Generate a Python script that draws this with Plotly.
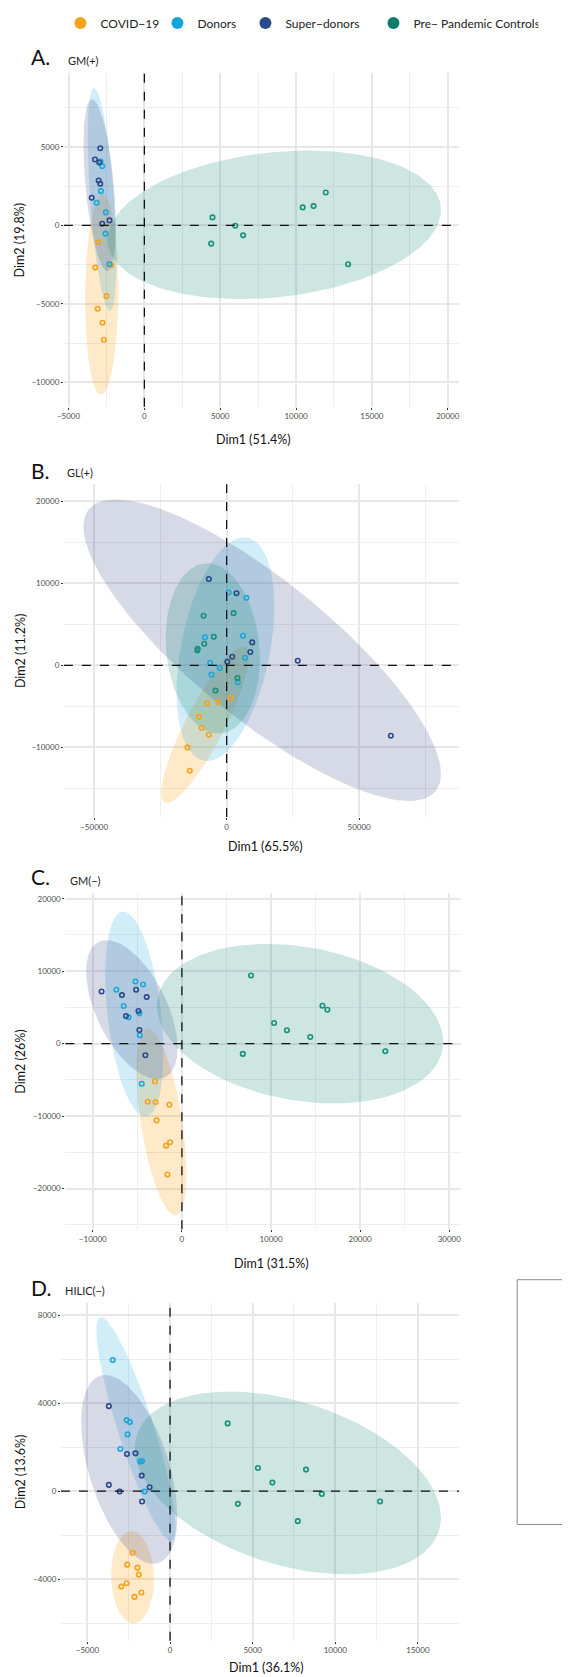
import numpy as np
import plotly.graph_objects as go

# the page body has an 8px default margin, so the figure is placed 8px in
OFF = 8
FW, FH = 570 - OFF, 1677 - OFF

groups = ["COVID−19", "Donors", "Super−donors", "Pre− Pandemic Controls"]
point_colors = ["#F7A21B", "#1AA7DA", "#2A4A8A", "#16907A"]
legend_colors = ["#F7A21B", "#12A6D8", "#2A4A8A", "#0E7E6B"]
fill_colors = ["rgba(249,162,27,0.24)", "rgba(26,167,218,0.20)",
               "rgba(50,65,130,0.20)", "rgba(19,138,116,0.21)"]

panel_letters = ["A.", "B.", "C.", "D."]
panel_titles = ["GM(+)", "GL(+)", "GM(−)", "HILIC(−)"]
x_titles = ["Dim1 (51.4%)", "Dim1 (65.5%)", "Dim1 (31.5%)", "Dim1 (36.1%)"]
y_titles = ["Dim2 (19.8%)", "Dim2 (11.2%)", "Dim2 (26%)", "Dim2 (13.6%)"]

# ---------------- Panel A: GM(+) ----------------
a_covid_x = [-3038, -3234, -2192, -2496, -3082, -2756, -2669]
a_covid_y = [-1080, -2690, -2541, -4511, -5315, -6205, -7285]
a_donor_x = [-2886, -2778, -2865, -3147, -2539, -2561, -2300]
a_donor_y = [4066, 3770, 2181, 1440, 826, -529, -2478]
a_super_x = [-2908, -3255, -2973, -3016, -2908, -3472, -2778, -2300]
a_super_y = [4913, 4193, 4003, 2859, 2647, 1758, 106, 318]
a_ctrl_x = [4492, 4405, 5990, 6510, 10438, 11155, 11957, 13433]
a_ctrl_y = [508, -1165, -21, -635, 1144, 1228, 2097, -2478]
# ellipses: centre x, centre y, half-range x, half-range y, correlation
a_ell = [(-2810, -4415, 1096, 6385, 0.05),
         (-2789, 1652, 944, 7094, -0.55),
         (-2951, 2573, 1063, 5474, -0.47),
         (8561, 32, 10992, 4733, 0.2)]

# ---------------- Panel B: GL(+) ----------------
b_covid_x = [-7329, -3354, 1491, -10435, -9441, -6708, -14783, -13913]
b_covid_y = [-4615, -4453, -3968, -6275, -7611, -8462, -10000, -12834]
b_donor_x = [745, 7453, -8199, 6211, 6957, -6211, -2609, -5714, 4224]
b_donor_y = [8866, 8219, 3401, 3603, 931, 324, -324, -1134, -2065]
b_super_x = [-6708, 3727, 9689, 8944, 2112, 248, 26832, 61988]
b_super_y = [10526, 8785, 2794, 1619, 1053, 445, 567, -8583]
b_ctrl_x = [-8696, 2609, -4845, -8447, -10932, -11056, 4099, -4224]
b_ctrl_y = [6032, 6356, 3482, 2632, 2024, 1822, -1538, -3077]
b_ell = [(-8137, -7247, 16584, 9555, 0.87),
         (-435, 1964, 18447, 13623, 0.38),
         (13416, 1842, 67453, 18360, -0.82),
         (-5217, 2065, 17764, 10364, -0.12)]

# ---------------- Panel C: GM(-) ----------------
c_covid_x = [-3029, -3841, -2955, -1404, -2844, -1330, -1773, -1625]
c_covid_y = [-5229, -8028, -8073, -8440, -10596, -13624, -14083, -18073]
c_donor_x = [-5208, -4358, -7350, -6537, -5983, -4765, -4728, -4506]
c_donor_y = [8578, 8165, 7431, 5183, 3624, 4174, 1147, -5550]
c_super_x = [-9012, -6722, -5134, -3952, -4875, -6279, -4765, -4100]
c_super_y = [7202, 6697, 7431, 6422, 4495, 3807, 1881, -1606]
c_ctrl_x = [7756, 10342, 11782, 14404, 15771, 16325, 6833, 22825]
c_ctrl_y = [9404, 2844, 1835, 917, 5229, 4679, -1422, -1055]
c_ell = [(-2290, -10826, 2807, 12890, -0.55),
         (-5337, 4060, 3269, 14151, -0.38),
         (-5614, 4679, 5134, 9587, -0.55),
         (13259, 2752, 16066, 11009, -0.23)]

# ---------------- Panel D: HILIC(-) ----------------
d_covid_x = [-2271, -2590, -1972, -1892, -2629, -2948, -1733, -2151]
d_covid_y = [-2798, -3342, -3478, -3796, -4189, -4340, -4612, -4809]
d_donor_x = [-3466, -2629, -2430, -2570, -3008, -1813, -1693, -1534]
d_donor_y = [5974, 3236, 3146, 2586, 1921, 1346, 1376, -15]
d_super_x = [-3705, -2610, -2092, -1713, -3705, -3048, -1235, -1693]
d_super_y = [3871, 1694, 1724, 711, 287, -15, 181, -469]
d_ctrl_x = [3486, 5319, 8227, 6195, 9183, 4104, 12709, 7729]
d_ctrl_y = [3085, 1059, 983, 393, -121, -575, -469, -1361]
d_ell = [(-2271, -3917, 1295, 2102, -0.05),
         (-2062, 2828, 2400, 5096, -0.88),
         (-2470, 998, 2908, 4295, -0.5),
         (7131, 378, 9263, 4159, -0.38)]

panels = [
    dict(pts=[(a_covid_x, a_covid_y), (a_donor_x, a_donor_y), (a_super_x, a_super_y), (a_ctrl_x, a_ctrl_y)],
         ell=a_ell, xr=[-5306, 20768], yr=[-11563, 9702], xdt=5000, ydt=5000,
         px=[57.5, 458], py=[68.3, 403], xt_off=33),
    dict(pts=[(b_covid_x, b_covid_y), (b_donor_x, b_donor_y), (b_super_x, b_super_y), (b_ctrl_x, b_ctrl_y)],
         ell=b_ell, xr=[-61420, 87850], yr=[-18486, 22057], xdt=50000, ydt=10000,
         px=[57.5, 458], py=[480.7, 814.5], xt_off=30),
    dict(pts=[(c_covid_x, c_covid_y), (c_donor_x, c_donor_y), (c_super_x, c_super_y), (c_ctrl_x, c_ctrl_y)],
         ell=c_ell, xr=[-13075, 31357], yr=[-25637, 20779], xdt=10000, ydt=10000,
         px=[59, 460], py=[890.7, 1228], xt_off=34),
    dict(pts=[(d_covid_x, d_covid_y), (d_donor_x, d_donor_y), (d_super_x, d_super_y), (d_ctrl_x, d_ctrl_y)],
         ell=d_ell, xr=[-6604, 17492], yr=[-6807, 8573], xdt=5000, ydt=4000,
         px=[54.5, 457.7], py=[1301.7, 1640.7], xt_off=27),
]
letter_y = [51.7, 466.7, 874, 1286.7]
subtitle_y = [56, 469, 878, 1289]
subtitle_x = [59.3, 59, 61.7, 56.7]
x_title_cx = [250, 261.7, 268, 263]
legend_px = [74, 171, 259, 387]   # legend symbol centres (page px)


def PX(x):
    return (x - OFF) / FW


def PY(y):
    return 1 - (y - OFF) / FH


def ellipse(cx, cy, sx, sy, rho, n=160):
    t = np.linspace(0, 2 * np.pi, n)
    x = cx + sx * np.cos(t)
    y = cy + sy * (rho * np.cos(t) + np.sqrt(1 - rho ** 2) * np.sin(t))
    return x, y


FONT = "Lato, 'Open Sans', sans-serif"
fig = go.Figure()
layout = dict(width=FW, height=FH, margin=dict(l=0, r=0, t=0, b=0),
              paper_bgcolor="white", plot_bgcolor="white",
              font=dict(family=FONT, color="#222"))
shapes, annotations = [], []


def ann(text, xpx, ypx, size, color="#111", xanchor="center", angle=0):
    annotations.append(dict(text=text, xref="paper", yref="paper", x=PX(xpx), y=PY(ypx),
                            xanchor=xanchor, yanchor="middle", textangle=angle,
                            showarrow=False, font=dict(size=size, color=color)))


for i, p in enumerate(panels):
    k = "" if i == 0 else str(i + 1)
    xa, ya = "x" + k, "y" + k
    for g in range(4):
        ex, ey = ellipse(*p["ell"][g])
        fig.add_trace(go.Scatter(x=ex, y=ey, xaxis=xa, yaxis=ya, mode="lines",
                                 fill="toself", fillcolor=fill_colors[g],
                                 line=dict(width=0), hoverinfo="skip", showlegend=False))
    for g in range(4):
        xs, ys = p["pts"][g]
        fig.add_trace(go.Scatter(x=xs, y=ys, xaxis=xa, yaxis=ya, mode="markers",
                                 marker=dict(symbol="circle-open", size=4.5,
                                             color=point_colors[g],
                                             line=dict(width=1.6, color=point_colors[g])),
                                 showlegend=False, name=groups[g]))
    dom_x = [PX(p["px"][0]), PX(p["px"][1])]
    dom_y = [PY(p["py"][1]), PY(p["py"][0])]
    axcommon = dict(showline=False, zeroline=False, ticks="outside", ticklen=2,
                    tickcolor="#333", tickwidth=1,
                    tickfont=dict(size=8, color="#4D4D4D", family=FONT),
                    tickformat="d", showgrid=True, gridcolor="#E8E6E9", gridwidth=2)
    layout["xaxis" + k] = dict(axcommon, domain=dom_x, range=p["xr"], anchor=ya,
                               dtick=p["xdt"], tick0=0,
                               minor=dict(dtick=p["xdt"] / 2, tick0=0, showgrid=True,
                                          gridcolor="#EEEDEF", gridwidth=1.3))
    layout["yaxis" + k] = dict(axcommon, domain=dom_y, range=p["yr"], anchor=xa,
                               dtick=p["ydt"], tick0=0,
                               minor=dict(dtick=p["ydt"] / 2, tick0=0, showgrid=True,
                                          gridcolor="#EEEDEF", gridwidth=1.3))
    # dashed reference lines at 0
    shapes.append(dict(type="line", xref=xa, yref=ya + " domain", x0=0, x1=0, y0=0, y1=1,
                       line=dict(color="#111", width=1.3, dash="dash")))
    shapes.append(dict(type="line", xref=xa + " domain", yref=ya, x0=0, x1=1, y0=0, y1=0,
                       line=dict(color="#111", width=1.3, dash="dash")))
    # labels
    ann(x_titles[i], x_title_cx[i], p["py"][1] + p["xt_off"], 12.5)
    ann(y_titles[i], 13.5, (p["py"][0] + p["py"][1]) / 2, 12.5, angle=-90)
    ann(panel_letters[i], 22, letter_y[i], 21, xanchor="left")
    ann(panel_titles[i], subtitle_x[i], subtitle_y[i], 11, color="#222", xanchor="left")

# legend: one entry per group, spaced like the original
for g in range(4):
    lw = (legend_px[g + 1] - legend_px[g] - 45) if g < 3 else 120
    fig.add_trace(go.Scatter(x=[None], y=[None], mode="markers", name=groups[g],
                             marker=dict(symbol="circle", size=12, color=legend_colors[g]),
                             showlegend=True, legendwidth=lw))
layout["legend"] = dict(orientation="h", x=PX(legend_px[0] - 20), y=PY(18),
                        xanchor="left", yanchor="middle",
                        font=dict(size=12, color="#222", family=FONT),
                        bgcolor="rgba(0,0,0,0)", itemwidth=30)

# leftover legend frame at right of panel D
shapes.append(dict(type="rect", xref="paper", yref="paper", x0=PX(516.5), x1=1.1,
                   y0=PY(1524), y1=PY(1278.5),
                   line=dict(color="#8A8A8A", width=1), fillcolor="rgba(0,0,0,0)"))

layout["shapes"] = shapes
layout["annotations"] = annotations
fig.update_layout(**layout)
fig.write_html("out.html")
